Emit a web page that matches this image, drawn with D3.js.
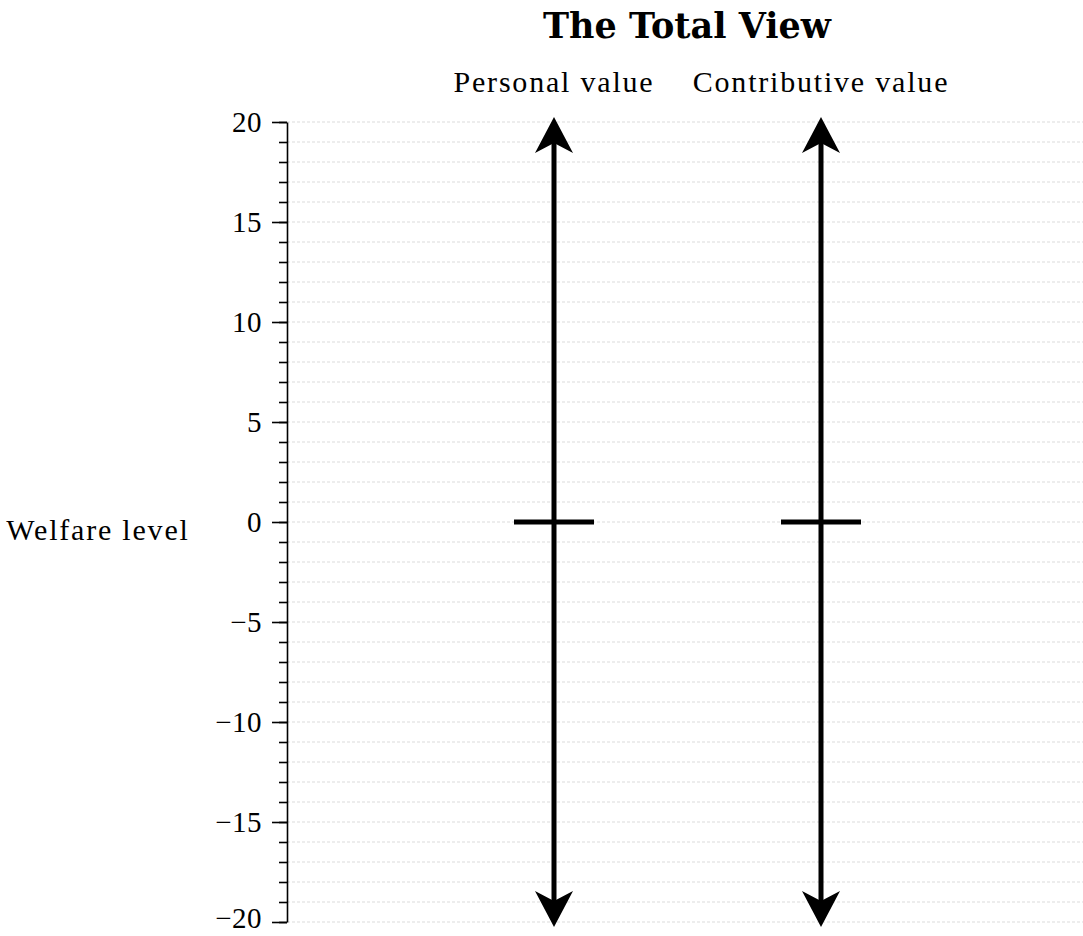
<!DOCTYPE html>
<html>
<head>
<meta charset="utf-8">
<script src="https://cdn.jsdelivr.net/npm/d3@7"></script>
<style>
	body { margin: 0; background: white; }
	svg text { font-family: "Liberation Serif", "DejaVu Serif", serif; fill: black; }
</style>
</head>
<body>
<svg id="chart" width="1083" height="936"></svg>
<script>
// data
let categories = ["Personal value", "Contributive value"];
let categoryPos = [1, 2];
let levelValues = [0, 0];
let arrowRange = [-20, 20];
let majorTicks = [-20, -15, -10, -5, 0, 5, 10, 15, 20];
let minorTicks = d3.range(-20, 21, 1);

let svg = d3.select("svg#chart");

let x = d3.scaleLinear().domain([0, 3]).range([287, 1088]);
let y = d3.scaleLinear().domain([-20, 20]).range([922, 122]);

// grid
svg.append("g")
	.selectAll("line")
	.data(minorTicks)
	.join("line")
	.attr("x1", x(0))
	.attr("x2", 1083)
	.attr("y1", d => y(d))
	.attr("y2", d => y(d))
	.attr("stroke", "#d2d2d2")
	.attr("stroke-width", 0.8)
	.attr("stroke-dasharray", "3,2")
	;

// minor ticks
svg.append("g")
	.attr("transform", `translate(${x(0)},0)`)
	.call(d3.axisLeft(y).tickValues(minorTicks).tickSize(8).tickFormat(""))
	.call(g => g.select(".domain").remove())
	.selectAll("line").attr("stroke-width", 1.6)
	;

// major ticks and labels
let yAxis = svg.append("g")
	.attr("transform", `translate(${x(0)},0)`)
	.call(d3.axisLeft(y).tickValues(majorTicks).tickSize(15).tickSizeOuter(0).tickPadding(10)
		.tickFormat(d => d < 0 ? "\u2212" + Math.abs(d) : d));
yAxis.select(".domain").attr("stroke-width", 1.6);
yAxis.selectAll(".tick line").attr("stroke-width", 1.6);
yAxis.selectAll(".tick text")
	.style("font-family", '"Liberation Serif", "DejaVu Serif", serif')
	.style("font-size", "29px")
	.style("letter-spacing", "0.5px")
	;
// keep the bottom label inside the picture
yAxis.selectAll(".tick text")
	.filter(d => d === arrowRange[0])
	.attr("dy", "0.18em")
	;

// arrowhead marker, drawn pointing along +x
let defs = svg.append("defs");
defs.append("marker")
	.attr("id", "head")
	.attr("viewBox", "0 0 36 38")
	.attr("refX", 19)
	.attr("refY", 19)
	.attr("markerUnits", "userSpaceOnUse")
	.attr("markerWidth", 36)
	.attr("markerHeight", 38)
	.attr("orient", "auto-start-reverse")
	.append("path")
	.attr("d", "M0,0 L36,19 L0,38 L10,19 Z")
	.attr("fill", "black")
	;

// arrows
svg.append("g")
	.selectAll("line")
	.data(categoryPos)
	.join("line")
	.attr("x1", d => x(d))
	.attr("x2", d => x(d))
	.attr("y1", y(arrowRange[0]) - 12)
	.attr("y2", y(arrowRange[1]) + 12)
	.attr("stroke", "black")
	.attr("stroke-width", 5)
	.attr("marker-start", "url(#head)")
	.attr("marker-end", "url(#head)")
	;

// level marks
svg.append("g")
	.selectAll("line")
	.data(levelValues)
	.join("line")
	.attr("x1", (d, i) => x(categoryPos[i]) - 40)
	.attr("x2", (d, i) => x(categoryPos[i]) + 40)
	.attr("y1", d => y(d))
	.attr("y2", d => y(d))
	.attr("stroke", "black")
	.attr("stroke-width", 5)
	;

// category labels
svg.append("g")
	.selectAll("text")
	.data(categories)
	.join("text")
	.text(d => d)
	.attr("x", (d, i) => x(categoryPos[i]))
	.attr("y", 92)
	.attr("text-anchor", "middle")
	.style("font-size", "30px")
	.style("letter-spacing", "1.8px")
	;

svg.append("text")
	.text("The Total View")
	.attr("x", 687)
	.attr("y", 38)
	.attr("text-anchor", "middle")
	.style("font-family", '"DejaVu Serif", serif')
	.style("font-size", "35px")
	.style("font-weight", "bold")
	;

svg.append("text")
	.text("Welfare level")
	.attr("x", 98)
	.attr("y", 540)
	.attr("text-anchor", "middle")
	.style("font-size", "30px")
	.style("letter-spacing", "1.8px")
	;
</script>
</body>
</html>
